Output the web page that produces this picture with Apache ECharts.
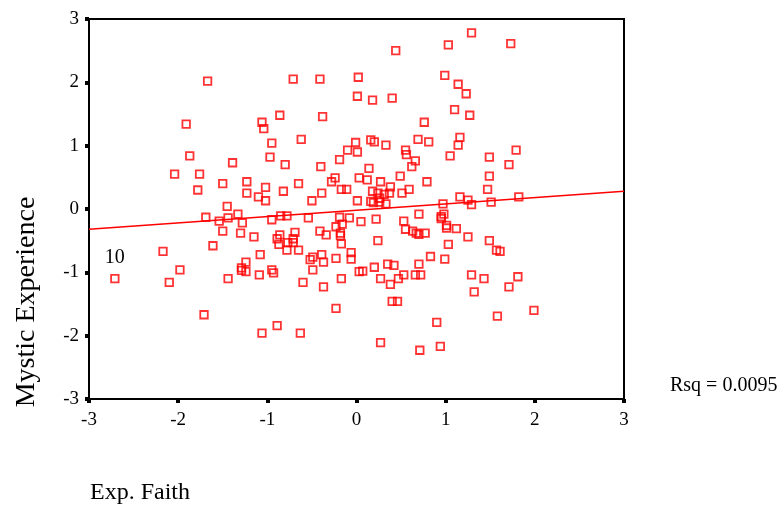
<!DOCTYPE html>
<html>
<head>
<meta charset="utf-8">
<script src="https://cdn.jsdelivr.net/npm/echarts@6/dist/echarts.min.js"></script>
<style>
html,body{margin:0;padding:0;background:#fff;}
#chart{width:781px;height:507px;}
</style>
</head>
<body>
<div id="chart"></div>
<script>
// Exp. Faith (x) and Mystic Experience (y); first point is case 10
const expFaith = [
 -2.71,
 1.29, 1.03, 1.73, 0.44, -1.67, -0.71, -0.41, 0.02, 0.99, 1.14, 1.23, 0.01, 0.18, 0.40, 1.10, 1.27, 0.76,
 -1.91, -1.06, -1.04, -0.86, -0.38, -0.95, -0.62, -1.87, -1.39, -0.97, -0.80, -1.76, -2.04, -1.78, -1.50,
 -1.23, -1.23, -1.02, -1.10, -1.02, -0.82, -0.65, -1.45, -0.40, -0.19, -0.10, -0.01, 0.01, -0.24, -0.28,
 -0.39, -0.50, -0.17, -0.11, 0.03, 0.01, 0.16, 0.20, 0.33, 0.69, 0.81, 0.55, 0.56, 0.66, 0.62, 0.14, 0.49,
 0.12, 0.27, 0.79, 0.18, 0.24, 0.38, 0.37, 0.31, 0.51, 0.59, 0.26, 0.16, 0.26, 0.33, 0.19, 1.16, 1.14,
 1.05, 1.49, 1.79, 1.71, 1.49, 1.47, 1.16, 1.25, 1.29, 1.51, 1.82, 0.97,
 -2.17, -1.98, -2.10, -1.71, -1.69, -1.61, -1.54, -1.50, -1.44, -1.33, -1.28, -1.30, -1.44, -1.15, -1.08,
 -1.29, -1.29, -1.24, -1.24, -1.09, -1.06, -0.89, -0.63, -0.95, -0.85, -0.78, -0.89, -0.86, -0.87, -0.77,
 -0.78, -0.69, -0.71, -0.71, -0.65, -0.95, -0.93, -0.60, -0.54, -0.41, -0.34, -0.52, -0.49, -0.49, -0.39,
 -0.37, -0.37, -0.23, -0.17, -0.23, -0.19, -0.23, -0.18, -0.18, -0.16, -0.17, -0.06, -0.06, 0.03, -0.08,
 0.05, 0.22, 0.53, 0.24, 0.55, 0.63, 0.67, 0.70, 0.77, 0.70, 0.95, 0.98, 1.01, 1.01, 1.12, 1.25, 1.03,
 1.49, 1.57, 1.61, 0.83, 0.99, 0.70, 0.35, 0.42, 0.20, 0.07, 0.27, 0.38, 0.47, 0.53, 0.66, 0.72, 1.29,
 1.43, 1.32, 1.71, 1.81, 1.99, 1.58, 0.90, 0.40, 0.46, 0.27, 0.71, 0.94, 0.95
];
const mysticExp = [
 -1.10,
 2.78, 2.59, 2.61, 2.50, 2.02, 2.05, 2.05, 2.08, 2.11, 1.97, 1.82, 1.78, 1.72, 1.75, 1.57, 1.48, 1.37,
 1.34, 1.37, 1.27, 1.48, 1.46, 1.04, 1.10, 0.84, 0.73, 0.82, 0.70, 0.55, 0.55, 0.30, 0.40,
 0.43, 0.25, 0.34, 0.19, 0.13, 0.28, 0.40, 0.04, 0.67, 0.78, 0.93, 1.05, 0.90, 0.49, 0.43,
 0.25, 0.13, 0.31, 0.31, 0.49, 0.13, 1.09, 1.06, 1.01, 1.10, 1.06, 0.93, 0.86, 0.76, 0.67, 0.64, 0.52,
 0.46, 0.43, 0.43, 0.28, 0.25, 0.35, 0.25, 0.23, 0.25, 0.31, 0.17, 0.12, 0.11, 0.08, 0.10, 1.13, 1.01,
 0.84, 0.82, 0.93, 0.70, 0.52, 0.31, 0.19, 0.14, 0.07, 0.11, 0.19, 0.08,
 -0.67, -0.96, -1.16, -1.67, -0.13, -0.58, -0.19, -0.35, -0.14, -0.08, -0.22, -0.38, -1.10, -0.44, -0.72,
 -0.93, -0.97, -0.84, -0.99, -1.04, -1.96, -1.84, -1.96, -0.17, -0.11, -0.11, -0.47, -0.41, -0.56, -0.53,
 -0.65, -0.37, -0.47, -0.53, -0.65, -0.96, -1.01, -1.16, -0.14, -0.35, -0.41, -0.80, -0.76, -0.96, -0.72,
 -0.84, -1.23, -0.78, -1.10, -1.57, -0.13, -0.28, -0.38, -0.42, -0.24, -0.55, -0.69, -0.79, -0.99, -0.14,
 -0.20, -0.16, -0.19, -0.50, -0.32, -0.35, -0.38, -0.40, -0.38, -0.08, -0.15, -0.08, -0.26, -0.30, -0.31, -0.44, -0.56,
 -0.50, -0.65, -0.67, -0.75, -0.79, -0.87, -0.87, -0.89, -0.92, -0.98, -1.10, -1.19, -1.10, -1.04, -1.04, -1.04, -1.04,
 -1.10, -1.31, -1.23, -1.07, -1.60, -1.69, -1.79, -1.46, -1.46, -2.11, -2.23, -2.17, -0.12
];
const caseLabel = '10';          // label of the first point
const fitX = [-3, 3];            // fit line ends (x)
const fitY = [-0.32, 0.28];      // fit line ends (y)
const xTitle = 'Exp. Faith';
const yTitle = 'Mystic Experience';
const rsqText = 'Rsq = 0.0095';

const FONT = '"Liberation Serif","Times New Roman",serif';
const scatterData = expFaith.map((x, i) => {
  const item = { value: [x, mysticExp[i]] };
  if (i === 0) {
    item.label = {
      show: true, formatter: caseLabel, position: 'top', distance: 6,
      fontFamily: FONT, fontSize: 20, color: '#000',
      textBorderWidth: 0, opacity: 1
    };
  }
  return item;
});

const chart = echarts.init(document.getElementById('chart'), null, { renderer: 'canvas' });
const axisCommon = {
  type: 'value', min: -3, max: 3, interval: 1,
  axisLine: { show: true, onZero: false, lineStyle: { color: '#000', width: 2 } },
  axisTick: { show: true, length: 4, lineStyle: { color: '#000', width: 4 } },
  splitLine: { show: false },
  axisLabel: { fontFamily: FONT, fontSize: 19, color: '#000' }
};
chart.setOption({
  animation: false,
  backgroundColor: '#fff',
  grid: { left: 89, right: 157, top: 19, bottom: 108, show: true, borderColor: '#000', borderWidth: 2, backgroundColor: 'transparent' },
  xAxis: Object.assign({}, axisCommon, { axisLabel: Object.assign({}, axisCommon.axisLabel, { margin: 12 }) }),
  yAxis: Object.assign({}, axisCommon, { axisLabel: Object.assign({}, axisCommon.axisLabel, { margin: 10 }) }),
  series: [
    {
      type: 'scatter',
      data: scatterData,
      symbol: 'rect',
      symbolSize: 7.5,
      itemStyle: { color: 'rgba(0,0,0,0)', borderColor: '#ff0000', borderWidth: 1.8 },
      z: 3
    },
    {
      type: 'line',
      data: fitX.map((x, i) => [x, fitY[i]]),
      symbol: 'none',
      lineStyle: { color: '#ff0000', width: 1.5 },
      z: 2
    }
  ],
  graphic: [
    { type: 'text', x: 27, y: 302, rotation: Math.PI / 2,
      style: { text: yTitle, font: '28px ' + FONT, align: 'center', verticalAlign: 'middle', fill: '#000' } },
    { type: 'text', x: 90, y: 493,
      style: { text: xTitle, font: '24px ' + FONT, align: 'left', verticalAlign: 'middle', fill: '#000' } },
    { type: 'text', x: 670, y: 386,
      style: { text: rsqText, font: '20px ' + FONT, align: 'left', verticalAlign: 'middle', fill: '#000' } }
  ]
});
</script>
</body>
</html>
